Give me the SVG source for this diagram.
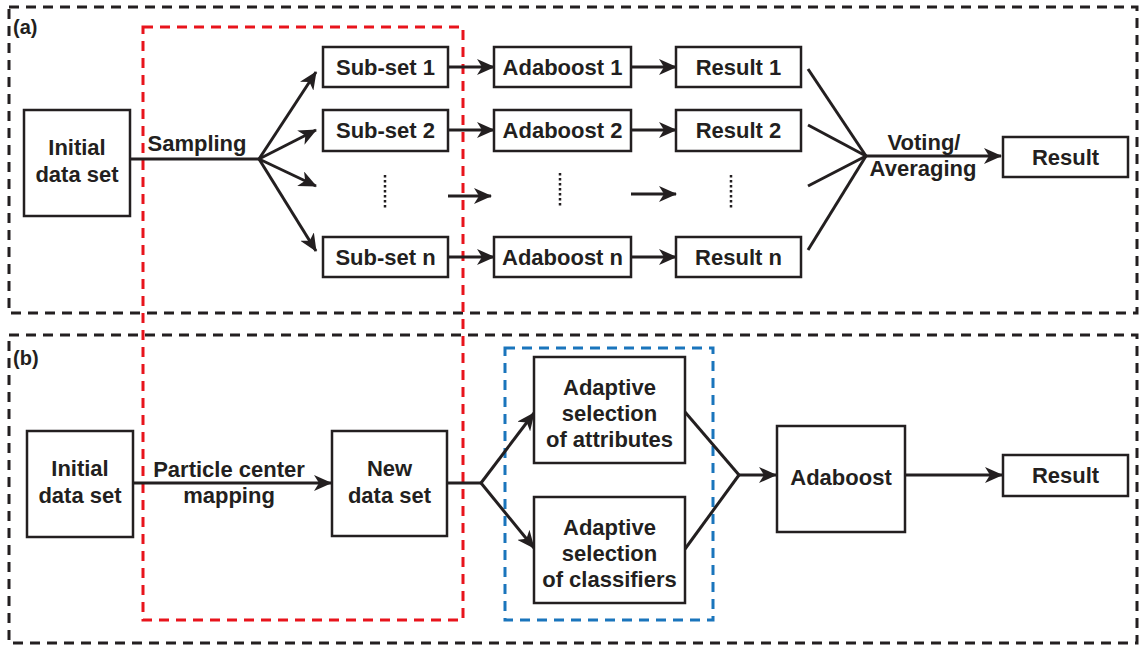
<svg xmlns="http://www.w3.org/2000/svg" width="1139" height="650" viewBox="0 0 1139 650">
<style>
.box{fill:#fff;stroke:#231f20;stroke-width:2.5}
.t{font-family:"Liberation Sans",Arial,sans-serif;font-weight:bold;font-size:22px;fill:#231f20;text-anchor:middle}
.lab{font-family:"Liberation Sans",Arial,sans-serif;font-weight:bold;font-size:20px;fill:#231f20}
.ln{fill:none;stroke:#231f20;stroke-width:3}
.arr{fill:none;stroke:#231f20;stroke-width:3;marker-end:url(#ah)}
.dk{fill:none;stroke:#231f20;stroke-width:3;stroke-dasharray:10,7}
.dots{fill:none;stroke:#231f20;stroke-width:2.5;stroke-dasharray:2.5,2.5}
</style>
<defs>
<marker id="ah" viewBox="0 0 18 16" refX="17" refY="8" markerWidth="18" markerHeight="16" markerUnits="userSpaceOnUse" orient="auto">
<path d="M0,0 L18,8 L0,16 L5,8 Z" fill="#231f20"/>
</marker>
</defs>
<rect width="1139" height="650" fill="#fff"/>
<g id="frames">
<rect class="dk" x="9" y="7" width="1128" height="306"/>
<rect class="dk" x="9" y="335" width="1128" height="308"/>
<rect x="143" y="27" width="320" height="593" fill="none" stroke="#e8141c" stroke-width="3" stroke-dasharray="10,7"/>
<rect x="505" y="348" width="208" height="272" fill="none" stroke="#1a75bc" stroke-width="3" stroke-dasharray="10,7"/>
<text class="lab" x="13" y="34">(a)</text>
<text class="lab" x="13" y="365">(b)</text>
</g>
<g id="connectors">
<polyline class="ln" points="130,159 259,159"/>
<line class="arr" x1="259" y1="159" x2="316" y2="72"/>
<line class="arr" x1="259" y1="159" x2="316" y2="130"/>
<line class="arr" x1="259" y1="159" x2="316" y2="186"/>
<line class="arr" x1="259" y1="159" x2="316" y2="251"/>
<line class="arr" x1="448" y1="67" x2="494" y2="67"/>
<line class="arr" x1="448" y1="130" x2="494" y2="130"/>
<line class="arr" x1="448" y1="196" x2="491" y2="196"/>
<line class="arr" x1="448" y1="257" x2="494" y2="257"/>
<line class="arr" x1="631" y1="67" x2="676" y2="67"/>
<line class="arr" x1="631" y1="130" x2="676" y2="130"/>
<line class="arr" x1="631" y1="194" x2="676" y2="194"/>
<line class="arr" x1="631" y1="257" x2="676" y2="257"/>
<line class="ln" x1="808" y1="69" x2="866" y2="156"/>
<line class="ln" x1="808" y1="125" x2="866" y2="156"/>
<line class="ln" x1="808" y1="186" x2="866" y2="156"/>
<line class="ln" x1="808" y1="250" x2="866" y2="156"/>
<line class="arr" x1="866" y1="156" x2="1001" y2="156"/>
<line class="dots" x1="385" y1="175" x2="385" y2="209"/>
<line class="dots" x1="560" y1="173" x2="560" y2="207"/>
<line class="dots" x1="731" y1="175" x2="731" y2="209"/>
<line class="arr" x1="133" y1="483" x2="331" y2="483"/>
<polyline class="ln" points="447,483 481,483"/>
<line class="arr" x1="481" y1="483" x2="534" y2="413"/>
<line class="arr" x1="481" y1="483" x2="534" y2="548"/>
<line class="ln" x1="685" y1="412" x2="739" y2="475"/>
<line class="ln" x1="685" y1="549" x2="739" y2="475"/>
<line class="arr" x1="739" y1="475" x2="776" y2="475"/>
<line class="arr" x1="905" y1="475" x2="1002" y2="475"/>
<text class="t" x="197" y="151">Sampling</text>
<text class="t" x="924" y="150">Voting/</text>
<text class="t" x="923" y="176">Averaging</text>
<text class="t" x="229" y="477">Particle center</text>
<text class="t" x="229" y="503">mapping</text>
</g>
<g id="a-initial"><rect class="box" x="24" y="110" width="106" height="106"/><text class="t" x="77" y="155">Initial</text><text class="t" x="77" y="182">data set</text></g>
<g id="subset1"><rect class="box" x="323" y="47" width="125" height="40"/><text class="t" x="385.5" y="75">Sub-set 1</text></g>
<g id="subset2"><rect class="box" x="323" y="110" width="125" height="41"/><text class="t" x="385.5" y="138">Sub-set 2</text></g>
<g id="subsetn"><rect class="box" x="323" y="237" width="125" height="40"/><text class="t" x="385.5" y="265">Sub-set n</text></g>
<g id="ada1"><rect class="box" x="494" y="47" width="137" height="40"/><text class="t" x="562.5" y="75">Adaboost 1</text></g>
<g id="ada2"><rect class="box" x="494" y="110" width="137" height="41"/><text class="t" x="562.5" y="138">Adaboost 2</text></g>
<g id="adan"><rect class="box" x="494" y="237" width="137" height="40"/><text class="t" x="562.5" y="265">Adaboost n</text></g>
<g id="res1"><rect class="box" x="676" y="47" width="125" height="40"/><text class="t" x="738.5" y="75">Result 1</text></g>
<g id="res2"><rect class="box" x="676" y="110" width="125" height="41"/><text class="t" x="738.5" y="138">Result 2</text></g>
<g id="resn"><rect class="box" x="676" y="237" width="125" height="40"/><text class="t" x="738.5" y="265">Result n</text></g>
<g id="a-result"><rect class="box" x="1003" y="137" width="125" height="40"/><text class="t" x="1065.5" y="165">Result</text></g>
<g id="b-initial"><rect class="box" x="27" y="431" width="106" height="106"/><text class="t" x="80" y="476">Initial</text><text class="t" x="80" y="503">data set</text></g>
<g id="newdata"><rect class="box" x="332" y="431" width="115" height="105"/><text class="t" x="389.5" y="476">New</text><text class="t" x="389.5" y="503">data set</text></g>
<g id="attr"><rect class="box" x="534" y="357" width="151" height="106"/><text class="t" x="609.5" y="395">Adaptive</text><text class="t" x="609.5" y="421">selection</text><text class="t" x="609.5" y="447">of attributes</text></g>
<g id="clf"><rect class="box" x="534" y="497" width="151" height="106"/><text class="t" x="609.5" y="535">Adaptive</text><text class="t" x="609.5" y="561">selection</text><text class="t" x="609.5" y="587">of classifiers</text></g>
<g id="adaboost"><rect class="box" x="777" y="426" width="128" height="106"/><text class="t" x="841" y="485">Adaboost</text></g>
<g id="b-result"><rect class="box" x="1003" y="455" width="125" height="41"/><text class="t" x="1065.5" y="483">Result</text></g>
</svg>
